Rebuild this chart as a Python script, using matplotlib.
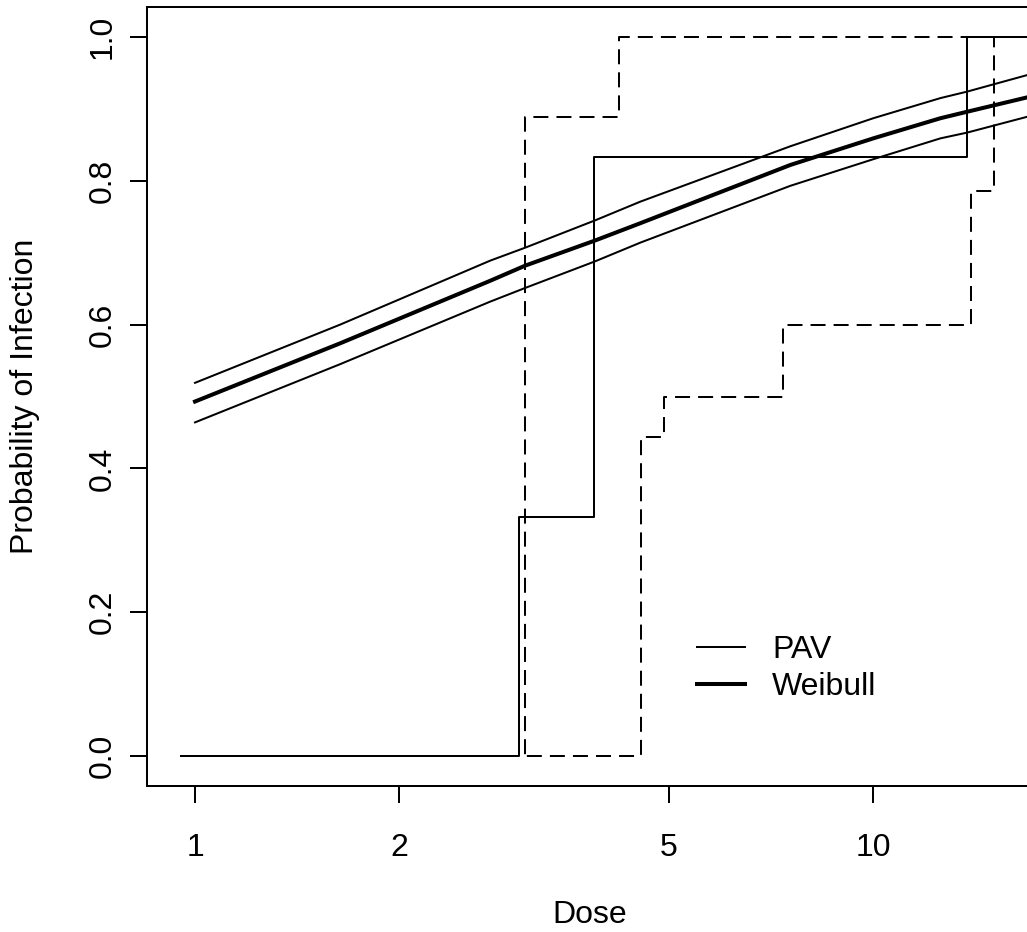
import numpy as np
import matplotlib
matplotlib.use("Agg")
import matplotlib.pyplot as plt
from matplotlib.ticker import FixedLocator, NullLocator, FixedFormatter

plt.rcParams['font.family'] = ['Liberation Sans', 'DejaVu Sans']
plt.rcParams['lines.scale_dashes'] = False

# Weibull dose-response fit with confidence band
dose_pts = [1.0, 1.637, 2.725, 3.068, 3.89, 4.535, 7.546, 10.0, 12.56, 13.75, 16.86, 17.3]
weibull_fit = [0.493, 0.574, 0.661, 0.682, 0.717, 0.741, 0.822, 0.859, 0.887, 0.896, 0.916, 0.918]
weibull_upper = [0.519, 0.600, 0.689, 0.707, 0.745, 0.771, 0.848, 0.887, 0.915, 0.924, 0.947, 0.949]
weibull_lower = [0.464, 0.545, 0.632, 0.651, 0.688, 0.714, 0.793, 0.830, 0.859, 0.867, 0.889, 0.891]

# PAV step estimate and its bounds
pav_dose = [0.954, 3.0, 3.88, 13.75, 20.0]
pav_prob = [0.0, 0.333, 0.833, 1.0, 1.0]
pav_up_dose = [0.954, 3.07, 4.22, 20.0]
pav_up_prob = [0.0, 0.889, 1.0, 1.0]
pav_lo_dose = [0.954, 4.55, 4.92, 7.36, 13.94, 15.06, 20.0]
pav_lo_prob = [0.0, 0.444, 0.5, 0.6, 0.786, 1.0, 1.0]

x_ticks = [1, 2, 5, 10]
x_ticklabels = ['1', '2', '5', '10']
y_ticks = [0.0, 0.2, 0.4, 0.6, 0.8, 1.0]
y_ticklabels = ['0.0', '0.2', '0.4', '0.6', '0.8', '1.0']

W, H = 1027, 932
fig = plt.figure(figsize=(W / 100, H / 100), dpi=100)
ax = fig.add_axes([146.8 / W, (H - 786) / H, 886.2 / W, 779 / H])

thin = 1.44
thick = 2.9
dash = (10.8, 5.8)

ax.step(pav_dose, pav_prob, where='post', color='black', lw=thin, label='PAV')
ax.step(pav_up_dose, pav_up_prob, where='post', color='black', lw=thin, dashes=dash)
ax.step(pav_lo_dose, pav_lo_prob, where='post', color='black', lw=thin, dashes=dash)

ax.plot(dose_pts, weibull_upper, color='black', lw=thin)
ax.plot(dose_pts, weibull_lower, color='black', lw=thin)
ax.plot(dose_pts, weibull_fit, color='black', lw=thick, label='Weibull')

ax.set_xscale('log')
ax.set_xlim(0.849, 17.2)
ax.set_ylim(-0.0417, 1.0417)

ax.xaxis.set_major_locator(FixedLocator(x_ticks))
ax.xaxis.set_major_formatter(FixedFormatter(x_ticklabels))
ax.xaxis.set_minor_locator(NullLocator())
ax.set_yticks(y_ticks)
ax.set_yticklabels(y_ticklabels)

ax.tick_params(axis='both', direction='out', length=12, width=thin,
               labelsize=23, color='black')
ax.tick_params(axis='x', pad=22)
ax.tick_params(axis='y', pad=9)
for lab in ax.get_yticklabels():
    lab.set_rotation(90)
    lab.set_va('center')

for sp in ax.spines.values():
    sp.set_linewidth(thin)
    sp.set_color('black')

ax.set_xlabel('Dose', fontsize=23)
ax.xaxis.set_label_coords(0.5, (786 - 915) / 779)
ax.xaxis.label.set_va('center')
ax.set_ylabel('Probability of Infection', fontsize=23)
ax.yaxis.set_label_coords((25 - 146.8) / 886.2, 0.5)
ax.yaxis.label.set_va('center')

ax.legend(loc='center left', bbox_to_anchor=(697 / W, 1 - 668.5 / H),
          bbox_transform=fig.transFigure, frameon=False, fontsize=23,
          handlelength=1.5, handletextpad=0.85, labelspacing=0.22,
          borderpad=0, borderaxespad=0)

fig.savefig('out.png', dpi=100)
